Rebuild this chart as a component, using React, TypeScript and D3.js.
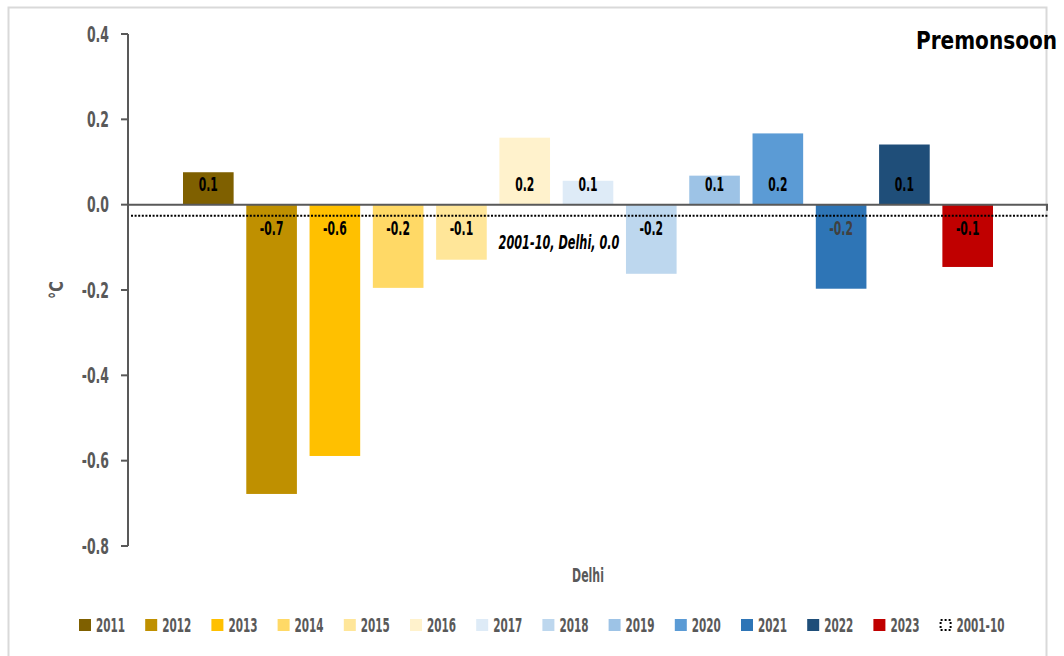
import React from "react";
import * as d3 from "d3";

const years = ["2011","2012","2013","2014","2015","2016","2017","2018","2019","2020","2021","2022","2023"];
const values = [0.076,-0.678,-0.589,-0.195,-0.129,0.157,0.056,-0.162,0.068,0.167,-0.197,0.141,-0.146];
const colors = ["#7f6000","#bf9000","#ffc000","#ffd966","#ffe699","#fff2cc","#deebf7","#bdd7ee","#9dc3e6","#5b9bd5","#2e75b6","#1f4e79","#c00000"];
const labelColors = ["#000","#000","#000","#000","#000","#000","#000","#000","#000","#000","#404040","#000","#000"];
const yTicks = [0.4,0.2,0.0,-0.2,-0.4,-0.6,-0.8];
const baselineValue = -0.026;
const baselineLabel = "2001-10, Delhi, 0.0";
const baselineLegend = "2001-10";
const title = "Premonsoon";
const category = "Delhi";
const yTitle = "°C";

const FONT = "'DejaVu Sans Condensed', 'DejaVu Sans', sans-serif";

function T(props: any) {
  const { x, y, sx = 0.68, anchor = "start", children, ...rest } = props;
  return (
    <text
      transform={`translate(${x},${y}) scale(${sx},1)`}
      dy="0.36em"
      textAnchor={anchor}
      fontFamily={FONT}
      fontWeight="bold"
      {...rest}
    >
      {children}
    </text>
  );
}

const fmt = (v: number) => d3.format(".1f")(v).replace("−", "-");

export default function App() {
  const W = 1064, H = 656;
  const axisX = 128, plotRight = 1047;
  const y = d3.scaleLinear().domain([-0.8, 0.4]).range([546, 34]);
  const x = d3.scaleBand<string>().domain(years).range([183, 993]).paddingInner(0.2).paddingOuter(0);
  const y0 = y(0);
  const legendStep = 66.2;
  const legendX0 = 79;
  return (
    <svg width={W} height={H} style={{ position: "absolute", left: 0, top: 0, background: "#fff" }}>
      <rect x={0} y={0} width={W} height={H} fill="#fff" />
      <path d={`M8.5,${H + 2}V7.5H1046.5V${H + 2}`} fill="none" stroke="#d9d9d9" strokeWidth={2} />
      {years.map((yr, i) => {
        const v = values[i];
        const top = y(Math.max(0, v));
        const bot = y(Math.min(0, v));
        return <rect key={yr} x={x(yr)} y={top} width={x.bandwidth()} height={bot - top} fill={colors[i]} />;
      })}
      <line x1={axisX} x2={axisX} y1={y(0.4)} y2={y(-0.8)} stroke="#595959" strokeWidth={2} />
      {yTicks.map((t) => (
        <g key={t}>
          <line x1={axisX - 7} x2={axisX} y1={y(t)} y2={y(t)} stroke="#595959" strokeWidth={2} />
          <T x={109} y={y(t)} anchor="end" sx={0.66} fontSize={21} fill="#595959">{fmt(t)}</T>
        </g>
      ))}
      <path d={`M${axisX},${y0}H${plotRight}V${y0 + 6}`} fill="none" stroke="#595959" strokeWidth={2} />
      <line x1={131} x2={1049} y1={y(baselineValue)} y2={y(baselineValue)} stroke="#000" strokeWidth={2} strokeDasharray="2 1.6" />
      <T x={559} y={242} anchor="middle" sx={0.66} fontSize={19} fontStyle="italic" fill="#000">{baselineLabel}</T>
      {years.map((yr, i) => {
        const v = values[i];
        const cy = v >= 0 ? y0 - 21 : y0 + 23;
        return (
          <T key={yr} x={(x(yr) as number) + x.bandwidth() / 2} y={cy} anchor="middle" sx={0.6} fontSize={20} fill={labelColors[i]}>
            {fmt(v)}
          </T>
        );
      })}
      <text x={1057} y={40} dy="0.36em" textAnchor="end" fontFamily={FONT} fontWeight="bold" fontSize={24} textLength={141} lengthAdjust="spacingAndGlyphs" fill="#000">
        {title}
      </text>
      <text transform={`translate(56,290) rotate(-90) scale(0.8,1)`} dy="0.36em" textAnchor="middle" fontFamily={FONT} fontWeight="bold" fontSize={20} fill="#595959">
        {yTitle}
      </text>
      <T x={588} y={575} anchor="middle" sx={0.64} fontSize={19} fill="#595959">{category}</T>
      {years.map((yr, i) => {
        const lx = legendX0 + i * legendStep;
        return (
          <g key={yr}>
            <rect x={lx} y={619} width={12} height={12} fill={colors[i]} />
            <T x={lx + 17} y={625} sx={0.58} fontSize={20} fill="#595959">{yr}</T>
          </g>
        );
      })}
      <g>
        <rect x={legendX0 + 13 * legendStep + 1} y={620} width={10} height={10} fill="none" stroke="#000" strokeWidth={2} strokeDasharray="2 2" />
        <T x={legendX0 + 13 * legendStep + 17} y={625} sx={0.58} fontSize={20} fill="#595959">{baselineLegend}</T>
      </g>
    </svg>
  );
}
